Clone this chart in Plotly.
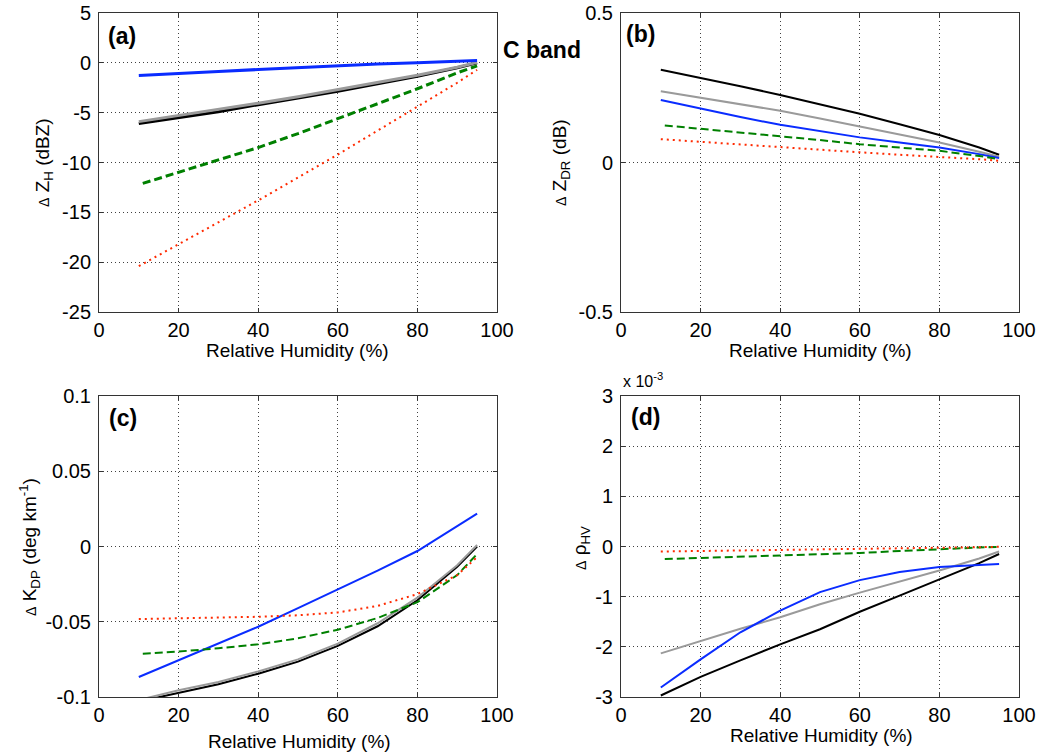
import plotly.graph_objects as go

# ---------------- data ----------------
RH = [10, 20, 30, 40, 50, 60, 70, 80, 90, 95]
RH_green = [11, 20, 30, 40, 50, 60, 70, 80, 90, 95]

# (a) Delta Z_H (dBZ)
dZH_black = [-6.1, -5.5, -4.9, -4.2, -3.55, -2.85, -2.1, -1.35, -0.5, 0.0]
dZH_gray = [-5.9, -5.3, -4.7, -4.05, -3.4, -2.7, -2.0, -1.25, -0.45, 0.05]
dZH_blue = [-1.27, -1.1, -0.88, -0.67, -0.47, -0.28, -0.12, 0.0, 0.15, 0.23]
dZH_green = [-12.1, -11.0, -9.8, -8.5, -7.1, -5.6, -4.1, -2.6, -1.0, -0.3]
dZH_red = [-20.4, -18.2, -16.0, -13.8, -11.5, -9.2, -6.8, -4.4, -2.0, -0.7]

# (b) Delta Z_DR (dB)
dZDR_black = [0.31, 0.283, 0.255, 0.226, 0.195, 0.163, 0.128, 0.092, 0.05, 0.026]
dZDR_gray = [0.238, 0.216, 0.195, 0.173, 0.147, 0.12, 0.094, 0.067, 0.036, 0.019]
dZDR_blue = [0.209, 0.18, 0.152, 0.126, 0.104, 0.084, 0.067, 0.05, 0.028, 0.015]
dZDR_green = [0.124, 0.113, 0.101, 0.089, 0.075, 0.061, 0.05, 0.039, 0.022, 0.011]
dZDR_red = [0.078, 0.069, 0.059, 0.05, 0.042, 0.034, 0.026, 0.019, 0.011, 0.006]

# (c) Delta K_DP (deg km^-1)
dKDP_black = [-0.103, -0.097, -0.0915, -0.0845, -0.0765, -0.066, -0.053, -0.0357, -0.0135, 0.0]
dKDP_gray = [-0.102, -0.0955, -0.09, -0.083, -0.075, -0.0645, -0.051, -0.034, -0.0125, 0.001]
dKDP_blue = [-0.0867, -0.0756, -0.0645, -0.0533, -0.041, -0.0287, -0.016, -0.003, 0.0135, 0.0218]
dKDP_green = [-0.0712, -0.0698, -0.0676, -0.065, -0.061, -0.0553, -0.0475, -0.037, -0.019, -0.005]
dKDP_red = [-0.0482, -0.0478, -0.0473, -0.0467, -0.0457, -0.0438, -0.0395, -0.0316, -0.019, -0.007]

# (d) Delta rho_HV (x 10^-3)
dRHO_black = [-2.97, -2.6, -2.27, -1.95, -1.65, -1.3, -0.98, -0.66, -0.33, -0.15]
dRHO_gray = [-2.13, -1.88, -1.64, -1.41, -1.15, -0.92, -0.7, -0.48, -0.24, -0.1]
dRHO_blue = [-2.81, -2.25, -1.71, -1.28, -0.91, -0.67, -0.51, -0.41, -0.37, -0.35]
dRHO_green = [-0.25, -0.23, -0.2, -0.18, -0.15, -0.13, -0.09, -0.05, -0.02, -0.01]
dRHO_red = [-0.1, -0.09, -0.085, -0.075, -0.065, -0.055, -0.045, -0.03, -0.015, -0.005]

x_ticks = [0, 20, 40, 60, 80, 100]
ya_ticks = [-25, -20, -15, -10, -5, 0, 5]
ya_text = ["-25", "-20", "-15", "-10", "-5", "0", "5"]
yb_ticks = [-0.5, 0, 0.5]
yb_text = ["-0.5", "0", "0.5"]
yc_ticks = [-0.1, -0.05, 0, 0.05, 0.1]
yc_text = ["-0.1", "-0.05", "0", "0.05", "0.1"]
yd_ticks = [-3, -2, -1, 0, 1, 2, 3]
yd_text = ["-3", "-2", "-1", "0", "1", "2", "3"]

# ---------------- style ----------------
FONT = "Liberation Sans, Arial, sans-serif"
C_BLACK = "#000000"
C_GRAY = "#9a9a9a"
C_BLUE = "#0a2cff"
C_GREEN = "#008000"
C_RED = "#ff2a00"

W, H = 1039, 754
L_DOM = [99 / W, 497 / W]
R_DOM = [621 / W, 1019 / W]
T_DOM = [1 - 312 / H, 1 - 13 / H]
B_DOM = [1 - 697 / H, 1 - 396 / H]

fig = go.Figure()

panels = [
    ("x", "y", [dZH_black, dZH_gray, dZH_blue, dZH_green, dZH_red], 3),
    ("x2", "y2", [dZDR_black, dZDR_gray, dZDR_blue, dZDR_green, dZDR_red], 2),
    ("x3", "y3", [dKDP_black, dKDP_gray, dKDP_blue, dKDP_green, dKDP_red], 2),
    ("x4", "y4", [dRHO_black, dRHO_gray, dRHO_blue, dRHO_green, dRHO_red], 2),
]
names = ["black", "gray", "blue", "green", "red"]
colors = [C_BLACK, C_GRAY, C_BLUE, C_GREEN, C_RED]
dashes = ["solid", "solid", "solid", "8px,4px", "2px,4px"]

for xa, ya, series, lw in panels:
    for nm, col, dsh, ys in zip(names, colors, dashes, series):
        xs = RH_green if nm == "green" else RH
        w = lw if nm != "red" else 2
        fig.add_trace(go.Scatter(
            x=xs, y=ys, xaxis=xa, yaxis=ya, mode="lines", name=nm,
            line=dict(color=col, width=w, dash=dsh), showlegend=False,
            cliponaxis=True,
        ))


def common():
    return dict(
        ticks="inside", ticklen=4, tickcolor="#333333", mirror="ticks",
        showline=True, linecolor="#333333", linewidth=1,
        showgrid=True, gridcolor="#404040", gridwidth=1, griddash="1px,3px",
        zeroline=False, tickfont=dict(family=FONT, size=20, color="black"),
        fixedrange=True, automargin=False,
    )


def xax(dom, anchor):
    d = common()
    d.update(domain=dom, anchor=anchor, range=[0, 100], tickvals=x_ticks,
             ticklabelstandoff=0)
    return d


def yax(dom, anchor, rng, tv, tt):
    d = common()
    d.update(domain=dom, anchor=anchor, range=rng, tickvals=tv, ticktext=tt,
             ticklabelstandoff=3)
    return d


fig.update_layout(
    width=W, height=H, margin=dict(l=0, r=0, t=0, b=0, autoexpand=False),
    paper_bgcolor="white", plot_bgcolor="white",
    font=dict(family=FONT, color="black"),
    xaxis=xax(L_DOM, "y"),
    yaxis=yax(T_DOM, "x", [-25, 5], ya_ticks, ya_text),
    xaxis2=xax(R_DOM, "y2"),
    yaxis2=yax(T_DOM, "x2", [-0.5, 0.5], yb_ticks, yb_text),
    xaxis3=xax(L_DOM, "y3"),
    yaxis3=yax(B_DOM, "x3", [-0.1, 0.1], yc_ticks, yc_text),
    xaxis4=xax(R_DOM, "y4"),
    yaxis4=yax(B_DOM, "x4", [-3, 3], yd_ticks, yd_text),
)

ann = []


def px(x, y):
    return x / W, 1 - y / H


def add_text(text, x, y, size, bold=False, angle=0, xanchor="center", yanchor="middle"):
    ax_, ay_ = px(x, y)
    ann.append(dict(
        text=("<b>%s</b>" % text) if bold else text, x=ax_, y=ay_,
        xref="paper", yref="paper", showarrow=False, textangle=angle,
        xanchor=xanchor, yanchor=yanchor,
        font=dict(family=FONT, size=size, color="black"),
    ))


DELTA = "<span style='font-size:14px'>Δ</span> "
# x-axis titles
add_text("Relative Humidity (%)", 297, 350, 19)
add_text("Relative Humidity (%)", 820, 350, 19)
add_text("Relative Humidity (%)", 299, 741, 19)
add_text("Relative Humidity (%)", 821, 735, 19)
# y-axis titles
add_text(DELTA + "Z<sub>H</sub> (dBZ)", 44, 163, 19, angle=-90)
add_text(DELTA + "Z<sub>DR</sub> (dB)", 561, 163, 19, angle=-90)
add_text(DELTA + "K<sub>DP</sub> (deg km<sup>-1</sup>)", 29, 547, 19, angle=-90)
add_text(DELTA + "ρ<sub>HV</sub>", 581, 548, 19, angle=-90)
# panel labels
add_text("(a)", 106, 36, 23, bold=True, xanchor="left")
add_text("(b)", 624, 34, 23, bold=True, xanchor="left")
add_text("(c)", 107, 418, 23, bold=True, xanchor="left")
add_text("(d)", 629, 417, 23, bold=True, xanchor="left")
# band label
add_text("C band", 501, 50, 23, bold=True, xanchor="left")
# exponent
add_text("x 10<sup>-3</sup>", 621, 392, 16, xanchor="left", yanchor="bottom")

fig.update_layout(annotations=ann)

fig.write_html("out.html")
